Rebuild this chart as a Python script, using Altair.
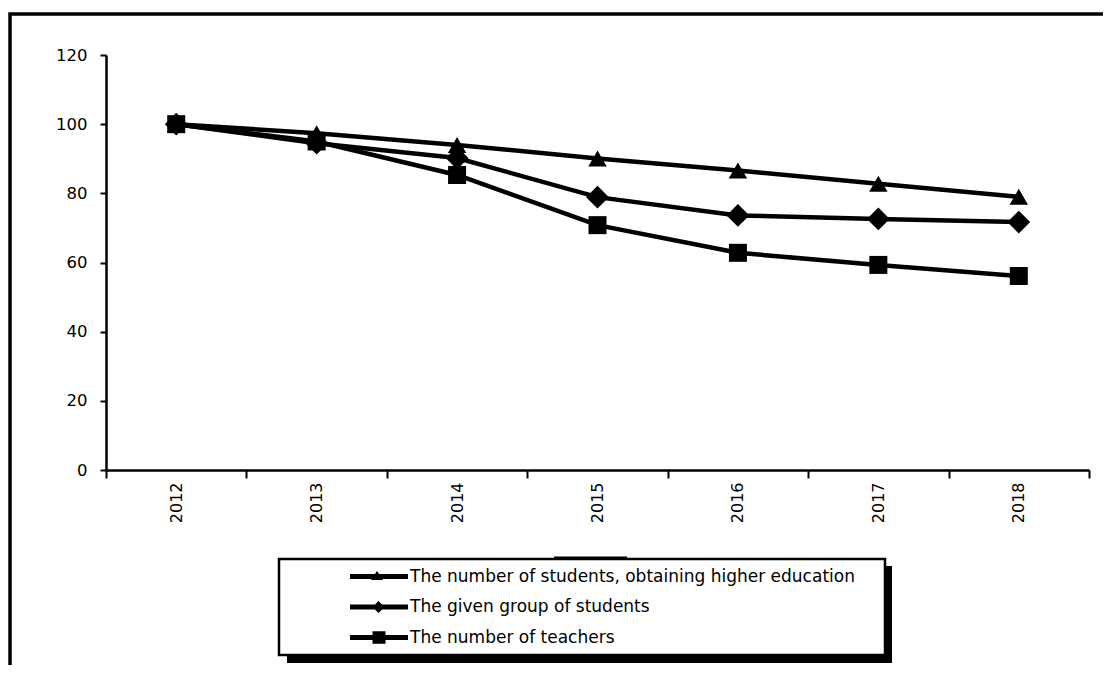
import altair as alt
import pandas as pd

years = ["2012", "2013", "2014", "2015", "2016", "2017", "2018"]
series_names = [
    "The number of students, obtaining higher education",
    "The given group of students",
    "The number of teachers",
]
students_higher = [100, 97.4, 94.0, 90.1, 86.6, 82.8, 79.0]
given_group = [100, 94.5, 90.2, 78.9, 73.6, 72.6, 71.7]
teachers = [100, 95.0, 85.3, 70.8, 62.8, 59.3, 56.1]
y_ticks = [0, 20, 40, 60, 80, 100, 120]

rows = []
for name, vals in zip(series_names, [students_higher, given_group, teachers]):
    for yr, v in zip(years, vals):
        rows.append({"year": yr, "value": v, "series": name})
df = pd.DataFrame(rows)

FONT = "DejaVu Sans"
W, H = 983, 415

x_enc = alt.X(
    "year:O",
    sort=years,
    bandPosition=0.5,
    scale=alt.Scale(type="band", paddingInner=0, paddingOuter=0),
    axis=alt.Axis(
        title=None, labelAngle=-90, tickBand="extent", grid=False,
        labelFont=FONT, labelFontSize=16, labelColor="black", labelPadding=4,
        domainColor="black", domainWidth=2.5, tickColor="black", tickWidth=2,
        tickSize=8,
    ),
)
y_enc = alt.Y(
    "value:Q",
    scale=alt.Scale(domain=[0, 120], nice=False),
    axis=alt.Axis(
        title=None, values=y_ticks, grid=False,
        labelFont=FONT, labelFontSize=16.5, labelColor="black", labelPadding=13,
        domainColor="black", domainWidth=2.5, tickColor="black", tickWidth=2,
        tickSize=6,
    ),
)

base = alt.Chart(df)

lines = base.mark_line(color="black", strokeWidth=4.5).encode(
    x=x_enc, y=y_enc, detail="series:N"
)

shapes = ["triangle-up", "diamond", "square"]
sizes = [340, 520, 324]
point_layers = [
    base.transform_filter(alt.datum.series == name)
    .mark_point(shape=s, size=z, filled=True, color="black", opacity=1)
    .encode(x=x_enc, y=y_enc)
    for name, s, z in zip(series_names, shapes, sizes)
]

bar = "M-4.8,-0.25L1,-0.25L1,0.25L-4.8,0.25Z "
legend_paths = [
    bar + "M-2.1,-0.55L-1.5,0.35L-2.7,0.35Z",
    bar + "M-1.95,-0.6L-1.35,0L-1.95,0.6L-2.55,0Z",
    bar + "M-2.55,-0.62L-1.25,-0.62L-1.25,0.62L-2.55,0.62Z",
]

legend_layer = base.mark_point(filled=True, color="black", opacity=0).encode(
    x=x_enc,
    y=y_enc,
    shape=alt.Shape(
        "series:N",
        sort=series_names,
        scale=alt.Scale(domain=series_names, range=legend_paths),
        legend=alt.Legend(
            title=None, orient="none", legendX=282, legendY=511.5,
            direction="vertical", symbolSize=400, symbolOpacity=1,
            symbolFillColor="black", symbolStrokeWidth=0,
            labelFont=FONT, labelFontSize=17, labelColor="black",
            labelOffset=2, rowPadding=12.5, padding=0, labelLimit=0,
        ),
    ),
)

one = pd.DataFrame({"k": [0]})
frame = alt.Chart(one).mark_rect(
    fill="transparent", stroke="black", strokeWidth=3.5
).encode(x=alt.value(-96), x2=alt.value(3000), y=alt.value(-41), y2=alt.value(3000))

shadow = alt.Chart(one).mark_rect(color="black").encode(
    x=alt.value(181), x2=alt.value(786), y=alt.value(511), y2=alt.value(608)
)
box = alt.Chart(one).mark_rect(fill="white", stroke="black", strokeWidth=2.5).encode(
    x=alt.value(173), x2=alt.value(779), y=alt.value(504), y2=alt.value(600)
)
bump = alt.Chart(one).mark_rect(color="black").encode(
    x=alt.value(448), x2=alt.value(521), y=alt.value(501.5), y2=alt.value(504)
)

chart = (
    alt.layer(frame, shadow, box, bump, lines, *point_layers, legend_layer)
    .properties(
        width=W,
        height=H,
        padding={"left": 98, "top": 47, "right": 14, "bottom": 195},
        autosize=alt.AutoSizeParams(type="none"),
        background="white",
    )
    .configure_view(strokeWidth=0)
)

chart.save("out.html", embed_options={"renderer": "svg", "actions": False})
